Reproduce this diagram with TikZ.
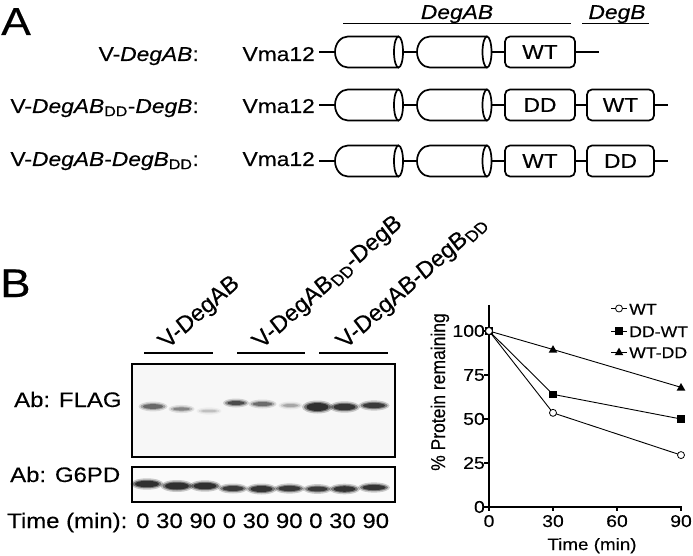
\documentclass[tikz,border=0pt]{standalone}
\usepackage{fontspec}
\setmainfont{Liberation Sans}[FakeStretch=1.14, FakeBold=0.35]
\newfontfamily\rawsans{Liberation Sans}[FakeBold=0.35]
\newcommand\fsA{\fontsize{20pt}{24pt}\selectfont}
\newcommand\fsB{\fontsize{21pt}{25pt}\selectfont}
\newcommand\fsBig{\fontsize{39pt}{44pt}\selectfont}
\newcommand\fsTick{\fontsize{17pt}{20pt}\selectfont}
\newcommand\fsLeg{\fontsize{15.5pt}{18pt}\selectfont}
\newcommand\fsXt{\fontsize{16.5pt}{19pt}\selectfont}
\newcommand\fsHead{\rawsans\fontsize{22pt}{26pt}\selectfont}
\newcommand\fsYlab{\rawsans\fontsize{17.5pt}{21pt}\selectfont}
\tikzset{
  lbl/.style={inner sep=0pt, font=\fsA},
  blbl/.style={inner sep=0pt, font=\fsB},
  dombox/.style={draw, line width=1.7pt, rounded corners=5pt, minimum height=31pt, inner sep=0pt, font=\fsA},
  link/.style={line width=1.7pt},
  cyl/.style={line width=1.7pt},
  overbar/.style={line width=1pt},
  frame/.style={line width=1.5pt},
  axisline/.style={line width=1.1pt},
  dataline/.style={line width=0.9pt},
  tick/.style={inner sep=0pt, font=\fsTick},
  leg/.style={inner sep=0pt, font=\fsLeg},
}
\newcommand\cylinder[4]{%
  \draw[cyl] (#3,#4-15.5) -- (#2+13,#4-15.5) arc[start angle=90,end angle=270,x radius=13pt,y radius=15.5pt] -- (#3,#4+15.5);
  \draw[cyl] (#3,#4) ellipse[x radius=4.5pt, y radius=15.5pt];
  \coordinate (#1w) at (#2,#4);
  \coordinate (#1e) at (#3+4.5,#4);}
\newcommand\blotband[5]{%
  \pgfmathsetmacro\bbA{0.2*#5}\pgfmathsetmacro\bbB{0.4*#5}\pgfmathsetmacro\bbC{0.6*#5}%
  \fill[black, opacity=\bbA] (#1,#2) ellipse[x radius=#3pt+1.5pt, y radius=#4pt+1.5pt];
  \fill[black, opacity=\bbB] (#1,#2) ellipse[x radius=#3pt-0.5pt, y radius=#4pt];
  \fill[black, opacity=\bbC] (#1,#2) ellipse[x radius=#3pt-3pt, y radius=#4pt-1pt];}
\newcommand\mkcirc[1]{\draw[fill=white, line width=0.8pt] (#1) circle[radius=3.5pt];}
\newcommand\mksq[1]{\fill ([shift={(-3.6pt,-3.6pt)}]#1) rectangle ([shift={(3.6pt,3.6pt)}]#1);}
\newcommand\mktri[1]{\fill ([shift={(0pt,4.3pt)}]#1) -- ([shift={(-4.3pt,-3.2pt)}]#1) -- ([shift={(4.3pt,-3.2pt)}]#1) -- cycle;}
\begin{document}
\begin{tikzpicture}[x=1pt,y=-1pt]
\useasboundingbox (0,0) rectangle (693,556);
% ---------- Panel A ----------
\node[inner sep=0pt, font=\fsBig, anchor=base west] (pA) at (1,35) {A};
\draw[overbar] (343,24) coordinate (ovA1) -- (571,24) coordinate (ovA2);
\node[lbl, anchor=base] (tDegAB) at (457,19) {\textit{DegAB}};
\draw[overbar] (582,24) coordinate (ovB1) -- (649,24) coordinate (ovB2);
\node[lbl, anchor=base] (tDegB) at (617,19) {\textit{DegB}};
% row 1
\node[lbl, anchor=base east] (lab1) at (199,61) {V-\textit{DegAB}:};
\node[lbl, anchor=base east] (vma1) at (315,61) {Vma12};
\coordinate (v1) at (319,52);
\cylinder{c1a}{335}{398.5}{52}
\cylinder{c1b}{417}{487}{52}
\node[dombox, minimum width=70pt] (d1a) at (540,52) {WT};
\coordinate (t1) at (599,52);
\draw[link] (v1) -- (c1aw);
\draw[link] (c1ae) -- (c1bw);
\draw[link] (c1be) -- (d1a.west);
\draw[link] (d1a.east) -- (t1);
% row 2
\node[lbl, anchor=base east] (lab2) at (199,113) {V-\textit{DegAB}\textsubscript{DD}-\textit{DegB}:};
\node[lbl, anchor=base east] (vma2) at (315,113) {Vma12};
\coordinate (v2) at (319,105);
\cylinder{c2a}{335}{398.5}{105}
\cylinder{c2b}{417}{487}{105}
\node[dombox, minimum width=70pt] (d2a) at (540,105) {DD};
\node[dombox, minimum width=67pt] (d2b) at (620.5,105) {WT};
\coordinate (t2) at (668,105);
\draw[link] (v2) -- (c2aw);
\draw[link] (c2ae) -- (c2bw);
\draw[link] (c2be) -- (d2a.west);
\draw[link] (d2a.east) -- (d2b.west);
\draw[link] (d2b.east) -- (t2);
% row 3
\node[lbl, anchor=base east] (lab3) at (199,166) {V-\textit{DegAB}-\textit{DegB}\textsubscript{DD}:};
\node[lbl, anchor=base east] (vma3) at (315,166) {Vma12};
\coordinate (v3) at (319,161);
\cylinder{c3a}{335}{398.5}{161}
\cylinder{c3b}{417}{487}{161}
\node[dombox, minimum width=70pt] (d3a) at (540,161) {WT};
\node[dombox, minimum width=67pt] (d3b) at (620.5,161) {DD};
\coordinate (t3) at (668,161);
\draw[link] (v3) -- (c3aw);
\draw[link] (c3ae) -- (c3bw);
\draw[link] (c3be) -- (d3a.west);
\draw[link] (d3a.east) -- (d3b.west);
\draw[link] (d3b.east) -- (t3);
% ---------- Panel B ----------
\node[inner sep=0pt, font=\fontsize{40pt}{44pt}\selectfont, anchor=base west] (pB) at (0,297) {B};
\begin{scope}[shift={(168,349)}, xscale=1.14, rotate=45]
  \node[transform shape, inner sep=0pt, anchor=base west, font=\fsHead] (h1) at (0,0) {V-\textit{DegAB}};
\end{scope}
\begin{scope}[shift={(262,349)}, xscale=1.14, rotate=45]
  \node[transform shape, inner sep=0pt, anchor=base west, font=\fsHead] (h2) at (0,0) {V-\textit{DegAB}\textsubscript{DD}-\textit{DegB}};
\end{scope}
\begin{scope}[shift={(346,349)}, xscale=1.14, rotate=45]
  \node[transform shape, inner sep=0pt, anchor=base west, font=\fsHead] (h3) at (0,0) {V-\textit{DegAB}-\textit{DegB}\textsubscript{DD}};
\end{scope}
\draw[line width=1.2pt] (144,353) coordinate (g1a) -- (213,353) coordinate (g1b);
\draw[line width=1.2pt] (237,353) coordinate (g2a) -- (305,353) coordinate (g2b);
\draw[line width=1.2pt] (319,353) coordinate (g3a) -- (388,353) coordinate (g3b);
% FLAG blot
\fill[black!3] (132,364) rectangle (395,457);
\blotband{153}{406.5}{13}{3.4}{0.6}
\blotband{181.5}{409}{11.5}{2.6}{0.45}
\blotband{209}{411}{11}{2.2}{0.2}
\blotband{236}{403}{11.5}{3}{0.78}
\blotband{262.5}{404}{12.5}{3}{0.58}
\blotband{290.5}{405.5}{10.5}{2.5}{0.3}
\blotband{317.5}{407}{14}{5}{1}
\blotband{344.5}{407}{14}{4.2}{0.95}
\blotband{374}{405.5}{14}{3.6}{0.9}
\draw[frame] (132,364) rectangle (395,457);
\node[blbl, anchor=base west] (abflag) at (14,407) {Ab: FLAG};
% G6PD blot
\fill[black!2] (132,467) rectangle (395,502);
\blotband{147}{484}{15}{4.2}{1}
\blotband{177}{486}{15}{4.5}{1}
\blotband{205}{486}{14.5}{4.2}{1}
\blotband{233}{488.5}{13.5}{3.5}{0.9}
\blotband{261.5}{489}{14}{4}{0.95}
\blotband{289.5}{488.5}{14}{3.6}{0.92}
\blotband{317.5}{489}{13}{3.4}{0.9}
\blotband{344.5}{489}{14}{3.8}{0.95}
\blotband{374}{487.5}{14.5}{3.6}{0.95}
\draw[frame] (132,467) rectangle (395,502);
\node[blbl, anchor=base west] (abg6pd) at (10,482) {Ab: G6PD};
\node[blbl, anchor=base west] (timelab) at (7,528) {Time (min): 0 30 90 0 30 90 0 30 90};
% ---------- Graph ----------
\begin{scope}[shift={(489,507)}, x=2.1333pt, y=1.76pt]
  \coordinate (orig) at (0,0);
  \coordinate (ytop) at (0,114.8);
  \coordinate (xend) at (90.5,0);
  \draw[axisline] (ytop) -- (orig) -- (xend);
  \foreach \v in {0,25,50,75,100} {
    \draw[axisline] (0,\v) -- ++(-5pt,0);
    \node[tick, anchor=east] (yt\v) at ([xshift=-4pt]0,\v) {\v};
  }
  \foreach \t in {0,30,60,90} {
    \draw[axisline] (\t,0) -- ++(0,-4pt);
    \node[tick, anchor=base] (xt\t) at ([yshift=-20pt]\t,0) {\t};
  }
  \coordinate (a0) at (0,100); \coordinate (a1) at (30,53.5); \coordinate (a2) at (90,29.5);
  \coordinate (b0) at (0,100); \coordinate (b1) at (30,64);   \coordinate (b2) at (90,50);
  \coordinate (c0) at (0,100); \coordinate (c1) at (30,89.5); \coordinate (c2) at (90,68);
  \draw[dataline] (c0) -- (c1) -- (c2);
  \draw[dataline] (b0) -- (b1) -- (b2);
  \draw[dataline] (a0) -- (a1) -- (a2);
  \mktri{c1} \mktri{c2}
  \mksq{b1} \mksq{b2}
  \mktri{c0} \mksq{b0}
  \mkcirc{a1} \mkcirc{a2} \mkcirc{a0}
\end{scope}
\node[inner sep=0pt, font=\fsXt, anchor=base] (xtitle) at (592,550) {Time (min)};
\begin{scope}[shift={(445,392)}, xscale=1.14, rotate=90]
  \node[transform shape, inner sep=0pt, anchor=base, font=\fsYlab] (ylab) at (0,0) {\% Protein remaining};
\end{scope}
% legend
\coordinate (l1a) at (611,308.5); \coordinate (l1b) at (627,308.5); \coordinate (l1m) at (619,308.5);
\coordinate (l2a) at (611,331);   \coordinate (l2b) at (627,331);   \coordinate (l2m) at (619,331);
\coordinate (l3a) at (611,352);   \coordinate (l3b) at (627,352);   \coordinate (l3m) at (619,352);
\draw[dataline] (l1a) -- (l1b); \mkcirc{l1m}
\draw[dataline] (l2a) -- (l2b); \mksq{l2m}
\draw[dataline] (l3a) -- (l3b); \mktri{l3m}
\node[leg, anchor=base west] (lg1) at (629,314.5) {WT};
\node[leg, anchor=base west] (lg2) at (629,337) {DD-WT};
\node[leg, anchor=base west] (lg3) at (629,358) {WT-DD};
\end{tikzpicture}
\end{document}
